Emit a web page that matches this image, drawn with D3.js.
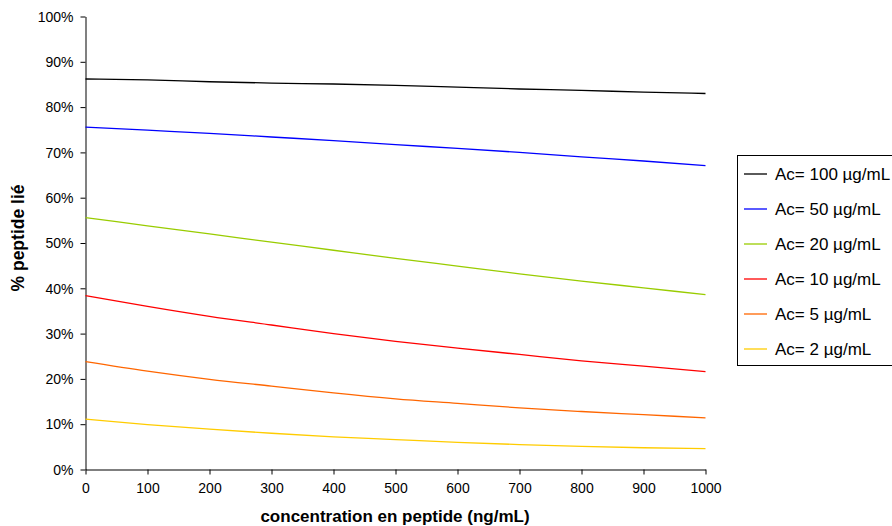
<!DOCTYPE html>
<html><head><meta charset="utf-8">
<script src="https://cdn.jsdelivr.net/npm/d3@7"></script>
<style>
html,body{margin:0;padding:0;background:#fff;overflow:hidden;}
text{font-family:"Liberation Sans",Arial,sans-serif;}
</style></head>
<body><svg id="c" width="892" height="526"></svg>
<script>
const xValues = [0,100,200,300,400,500,600,700,800,900,1000];
const seriesNames = ["Ac= 100 µg/mL","Ac= 50 µg/mL","Ac= 20 µg/mL","Ac= 10 µg/mL","Ac= 5 µg/mL","Ac= 2 µg/mL"];
const ac100 = [86.2,86.0,85.6,85.3,85.1,84.8,84.4,84.0,83.7,83.3,83.0];
const ac50  = [75.6,74.9,74.2,73.4,72.6,71.7,70.9,70.0,69.0,68.1,67.1];
const ac20  = [55.6,53.8,52.0,50.2,48.4,46.6,44.9,43.2,41.6,40.1,38.6];
const ac10  = [38.4,36.0,33.8,31.9,30.0,28.3,26.8,25.4,24.0,22.8,21.6];
const ac5   = [23.8,21.7,19.9,18.4,16.9,15.6,14.6,13.6,12.8,12.1,11.4];
const ac2   = [11.1,9.9,8.9,8.0,7.2,6.6,6.0,5.5,5.1,4.8,4.6];
const colors = ["#000000","#0000FF","#99CC00","#FF0000","#FF6600","#FFCC00"];
const xTicks = [0,100,200,300,400,500,600,700,800,900,1000];
const yTicks = [0,10,20,30,40,50,60,70,80,90,100];
const xTitle = "concentration en peptide (ng/mL)";
const yTitle = "% peptide lié";

const allSeries = [ac100,ac50,ac20,ac10,ac5,ac2];
const svg = d3.select("#c");
const L=85.5, R=705.5, T=16.5, B=469.5;
const x = d3.scaleLinear().domain([0,1000]).range([L,R]);
const y = d3.scaleLinear().domain([0,100]).range([B,T]);

// y axis
const ya = svg.append("g").attr("transform",`translate(${L},0)`)
  .call(d3.axisLeft(y).tickValues(yTicks).tickFormat(d=>d+"%").tickSize(5).tickSizeOuter(0));
ya.select(".domain").attr("stroke","#808080").attr("stroke-width",2);
ya.selectAll(".tick line").attr("stroke","#000");
ya.selectAll(".tick text").attr("font-size",14).attr("fill","#000").attr("x",-12).attr("dy","0.34em");

// x axis
const xa = svg.append("g").attr("transform",`translate(0,${B})`)
  .call(d3.axisBottom(x).tickValues(xTicks).tickFormat(d3.format("d")).tickSize(5).tickSizeOuter(0));
xa.select(".domain").attr("stroke","#000").attr("stroke-width",1.2);
xa.selectAll(".tick line").attr("stroke","#000");
xa.selectAll(".tick text").attr("font-size",14).attr("fill","#000").attr("y",14);

// titles
svg.append("text").attr("x",395).attr("y",521.5).attr("text-anchor","middle")
  .attr("font-size",17).attr("font-weight","bold").text(xTitle);
svg.append("text").attr("transform","translate(24,238) rotate(-90)").attr("text-anchor","middle")
  .attr("font-size",17.5).attr("font-weight","bold").text(yTitle);

// lines
const line = d3.line().x((d,i)=>x(xValues[i])).y(d=>y(d)).curve(d3.curveMonotoneX);
allSeries.forEach((s,i)=>{
  svg.append("path").datum(s).attr("d",line).attr("fill","none")
    .attr("stroke",colors[i]).attr("stroke-width",1.3);
});

// legend
const lg = svg.append("g");
lg.append("rect").attr("x",737.5).attr("y",155.5).attr("width",170).attr("height",210)
  .attr("fill","#fff").attr("stroke","#000").attr("stroke-width",1);
seriesNames.forEach((n,i)=>{
  const yy = 174 + i*35;
  lg.append("line").attr("x1",744).attr("x2",767).attr("y1",yy).attr("y2",yy)
    .attr("stroke",colors[i]).attr("stroke-width",1.3);
  lg.append("text").attr("x",775).attr("y",yy).attr("dy","0.35em").attr("font-size",17).text(n);
});
</script></body></html>
